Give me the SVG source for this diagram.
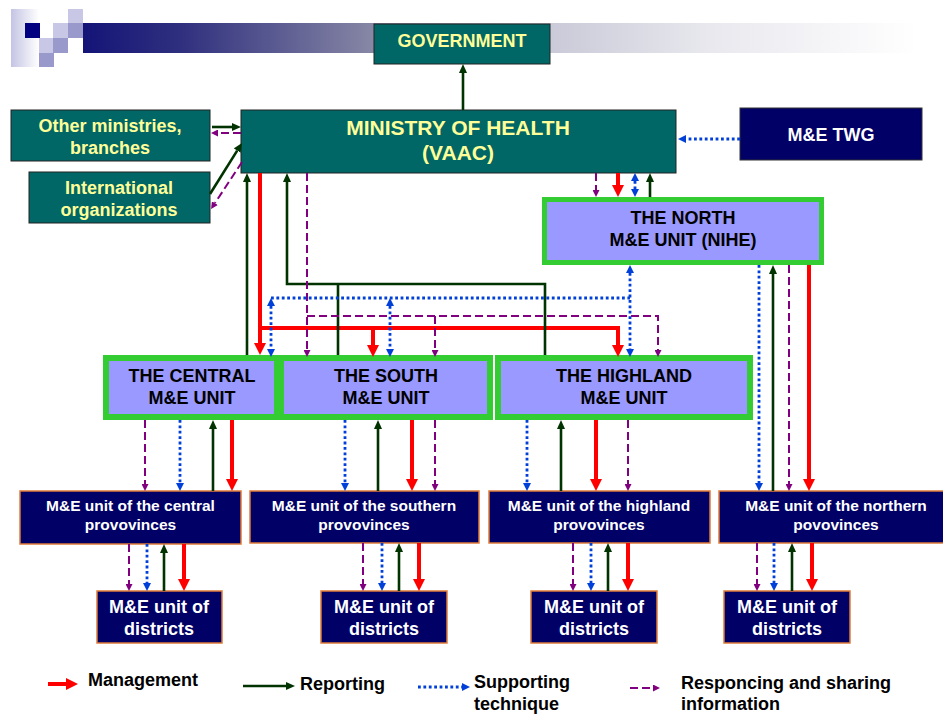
<svg xmlns="http://www.w3.org/2000/svg" width="943" height="715" viewBox="0 0 943 715">
<defs>
<linearGradient id="bar" x1="0" y1="0" x2="1" y2="0">
<stop offset="0" stop-color="#141478"/>
<stop offset="0.12" stop-color="#30307f"/>
<stop offset="0.35" stop-color="#8888a6"/>
<stop offset="0.55" stop-color="#c8c8d7"/>
<stop offset="0.75" stop-color="#e8e8ee"/>
<stop offset="1" stop-color="#ffffff"/>
</linearGradient>
<linearGradient id="fade" x1="0" y1="0" x2="1" y2="0">
<stop offset="0" stop-color="#c4c4e4"/>
<stop offset="1" stop-color="#ffffff"/>
</linearGradient>
<marker id="ar" viewBox="0 0 12 12" refX="0" refY="6" markerWidth="12" markerHeight="12" markerUnits="userSpaceOnUse" orient="auto"><path d="M0,0L12,6L0,12z" fill="#ff0000"/></marker>
<marker id="ag" viewBox="0 0 9 8" refX="0" refY="4" markerWidth="9" markerHeight="8" markerUnits="userSpaceOnUse" orient="auto"><path d="M0,0L9,4L0,8z" fill="#003300"/></marker>
<marker id="ab" viewBox="0 0 8 8" refX="0" refY="4" markerWidth="8" markerHeight="8" markerUnits="userSpaceOnUse" orient="auto-start-reverse"><path d="M0,0L8,4L0,8z" fill="#0040d8"/></marker>
<marker id="ap" viewBox="0 0 7 7" refX="0" refY="3.5" markerWidth="7" markerHeight="7" markerUnits="userSpaceOnUse" orient="auto"><path d="M0,0L7,3.5L0,7z" fill="#800080"/></marker>
<style>
text{font-family:"Liberation Sans",Arial,sans-serif;font-weight:bold;text-anchor:middle}
.teal{fill:#006666;stroke:#222;stroke-width:1}
.ty{fill:#ffff99;font-size:18px}
.unit{fill:#9999ff;stroke:#33cc33;stroke-width:6}
.ut{fill:#000;font-size:18px}
.prov{fill:#000066;stroke:#e07b39;stroke-width:1.5}
.pt{fill:#fff;font-size:15.5px}
.dt{fill:#fff;font-size:18px}
.lg{fill:#000;font-size:18px;text-anchor:start}
.red{stroke:#ff0000;stroke-width:4;fill:none;marker-end:url(#ar)}
.grn{stroke:#003300;stroke-width:2.6;fill:none;marker-end:url(#ag)}
.gl{stroke:#003300;stroke-width:2.6;fill:none}
.blu{stroke:#0040d8;stroke-width:2.8;stroke-dasharray:2.8 2.6;fill:none;marker-end:url(#ab)}
.bl{stroke:#0040d8;stroke-width:2.8;stroke-dasharray:2.8 2.6;fill:none}
.bb{marker-start:url(#ab)}
.pur{stroke:#800080;stroke-width:2;stroke-dasharray:8 4;fill:none;marker-end:url(#ap)}
</style>
</defs>
<rect width="943" height="715" fill="#fff"/>
<g id="header">
<rect x="83" y="23" width="834" height="30" fill="url(#bar)"/>
<rect x="11" y="9" width="28" height="58" fill="url(#fade)"/>
<rect x="25" y="23" width="15" height="15" fill="#000080"/>
<rect x="53" y="23" width="15" height="15" fill="#c8c8e6"/>
<rect x="68" y="23" width="15" height="15" fill="#9999cc"/>
<rect x="68" y="9" width="15" height="14" fill="#c8c8e6"/>
<rect x="39" y="38" width="14" height="15" fill="#c8c8e6"/>
<rect x="53" y="38" width="15" height="15" fill="#9999cc"/>
<rect x="39" y="53" width="15" height="14" fill="#9999cc"/>
</g>
<g id="government"><rect class="teal" x="374" y="24" width="176" height="40"/><text class="ty" x="462" y="47">GOVERNMENT</text></g>
<g id="ministry"><rect class="teal" x="241" y="110" width="435" height="63"/><text class="ty" style="font-size:21px" x="458" y="135">MINISTRY OF HEALTH</text><text class="ty" style="font-size:21px" x="458" y="160">(VAAC)</text></g>
<g id="other-ministries"><rect class="teal" x="11" y="110" width="199" height="51"/><text class="ty" x="110" y="132">Other ministries,</text><text class="ty" x="110" y="154">branches</text></g>
<g id="international"><rect class="teal" x="29" y="172" width="181" height="51"/><text class="ty" x="119" y="194">International</text><text class="ty" x="119" y="216">organizations</text></g>
<g id="twg"><rect x="740" y="108" width="182" height="52" fill="#000066" stroke="#333" stroke-width="1"/><text class="dt" x="831" y="141">M&amp;E TWG</text></g>
<g id="north-unit"><rect class="unit" x="544.5" y="199.5" width="277" height="63" style="stroke-width:5"/><text class="ut" x="683" y="224">THE NORTH</text><text class="ut" x="683" y="246">M&amp;E UNIT (NIHE)</text></g>
<g id="central-unit"><rect class="unit" x="106" y="358" width="171" height="59"/><text class="ut" x="192" y="382">THE CENTRAL</text><text class="ut" x="192" y="404">M&amp;E UNIT</text></g>
<g id="south-unit"><rect class="unit" x="281" y="358" width="209" height="59"/><text class="ut" x="386" y="382">THE SOUTH</text><text class="ut" x="386" y="404">M&amp;E UNIT</text></g>
<g id="highland-unit"><rect class="unit" x="498" y="358" width="252" height="59"/><text class="ut" x="624" y="382">THE HIGHLAND</text><text class="ut" x="624" y="404">M&amp;E UNIT</text></g>
<g id="central-prov"><rect class="prov" x="20" y="491" width="221" height="53"/><text class="pt" x="130.5" y="511">M&amp;E unit of the central</text><text class="pt" x="130.5" y="530">provovinces</text></g>
<g id="south-prov"><rect class="prov" x="250" y="491" width="229" height="52"/><text class="pt" x="364" y="511">M&amp;E unit of the southern</text><text class="pt" x="364" y="530">provovinces</text></g>
<g id="highland-prov"><rect class="prov" x="489" y="491" width="221" height="52"/><text class="pt" x="599" y="511">M&amp;E unit of the highland</text><text class="pt" x="599" y="530">provovinces</text></g>
<g id="north-prov"><rect class="prov" x="719" y="491" width="234" height="52"/><text class="pt" x="836" y="511">M&amp;E unit of the northern</text><text class="pt" x="836" y="530">povovinces</text></g>
<g id="central-dist"><rect class="prov" x="97" y="591" width="125" height="52"/><text class="dt" x="159" y="613">M&amp;E unit of</text><text class="dt" x="159" y="635">districts</text></g>
<g id="south-dist"><rect class="prov" x="321" y="591" width="126" height="52"/><text class="dt" x="384" y="613">M&amp;E unit of</text><text class="dt" x="384" y="635">districts</text></g>
<g id="highland-dist"><rect class="prov" x="531" y="591" width="126" height="52"/><text class="dt" x="594" y="613">M&amp;E unit of</text><text class="dt" x="594" y="635">districts</text></g>
<g id="north-dist"><rect class="prov" x="724" y="591" width="126" height="52"/><text class="dt" x="787" y="613">M&amp;E unit of</text><text class="dt" x="787" y="635">districts</text></g>
<g id="connectors">
<path class="grn" d="M463,110V73"/>
<path class="grn" d="M212,127H232"/>
<path class="pur" d="M241,133H218"/>
<path class="grn" d="M210,194L237.2,150.6"/>
<path class="pur" d="M242,162L214.9,203.2"/>
<path class="blu" d="M740,139H686"/>
<path class="pur" d="M596,173V190"/>
<path class="red" d="M618,173V185"/>
<path class="blu bb" d="M635,181V189"/>
<path class="grn" d="M650,197V182"/>
<path class="grn" d="M247,355V182"/>
<path class="red" d="M260,173V343"/>
<path class="red" d="M260,328H618V345"/>
<path class="red" d="M373,328V345"/>
<path class="grn" d="M545,355V284H287V182"/>
<path class="gl" d="M338,355V284"/>
<path class="pur" d="M307,173V350"/>
<path class="pur" d="M307,316H658V350"/>
<path class="pur" d="M435,316V350"/>
<path class="bl" d="M271,298H630"/>
<path class="blu bb" d="M630,273V349"/>
<path class="blu bb" d="M271,306V349"/>
<path class="blu bb" d="M390,306V349"/>
<path class="pur" d="M145,420V484"/>
<path class="blu" d="M180,420V483"/>
<path class="grn" d="M213,491V429"/>
<path class="red" d="M232,420V479"/>
<path class="blu" d="M345,420V483"/>
<path class="grn" d="M378,491V429"/>
<path class="red" d="M412,420V479"/>
<path class="pur" d="M435,420V484"/>
<path class="blu" d="M527,420V483"/>
<path class="grn" d="M561,491V429"/>
<path class="red" d="M596,420V479"/>
<path class="pur" d="M628,420V484"/>
<path class="blu" d="M759,265V483"/>
<path class="grn" d="M773,491V274"/>
<path class="pur" d="M789,265V484"/>
<path class="red" d="M809,265V479"/>
<path class="pur" d="M129,544V584"/>
<path class="blu" d="M147,544V583"/>
<path class="grn" d="M164,591V553"/>
<path class="red" d="M184,544V579"/>
<path class="pur" d="M363,543V584"/>
<path class="blu" d="M382,543V583"/>
<path class="grn" d="M399,591V552"/>
<path class="red" d="M419,543V579"/>
<path class="pur" d="M573,543V584"/>
<path class="blu" d="M591,543V583"/>
<path class="grn" d="M608,591V552"/>
<path class="red" d="M628,543V579"/>
<path class="pur" d="M757,543V584"/>
<path class="blu" d="M774,543V583"/>
<path class="grn" d="M792,591V552"/>
<path class="red" d="M812,543V579"/>
</g>
<g id="legend">
<path class="red" d="M48,684H66"/>
<text class="lg" x="88" y="686">Management</text>
<path class="grn" d="M243,686H286"/>
<text class="lg" x="300" y="690">Reporting</text>
<path class="blu" d="M418,687H462"/>
<text class="lg" x="474" y="688">Supporting</text>
<text class="lg" x="474" y="710">technique</text>
<path class="pur" d="M630,688H653"/>
<text class="lg" x="681" y="689">Responcing and sharing</text>
<text class="lg" x="681" y="710">information</text>
</g>
</svg>
